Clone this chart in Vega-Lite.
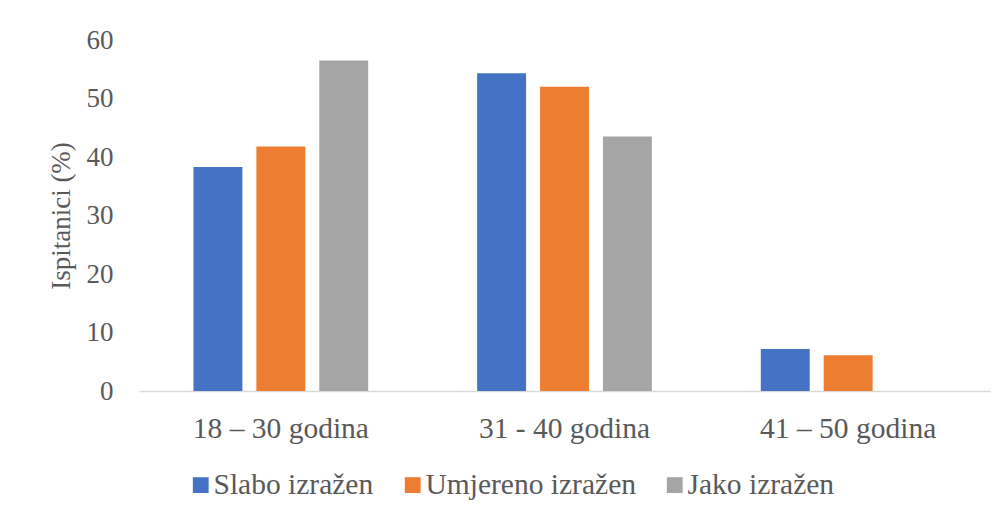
{
  "$schema": "https://vega.github.io/schema/vega-lite/v6.json",
  "autosize": "none",
  "width": 851,
  "height": 351,
  "padding": {"left": 139, "top": 40, "right": 17, "bottom": 127},
  "background": "white",
  "config": {
    "view": {"stroke": null},
    "font": "Liberation Serif",
    "axis": {"labelFont": "Liberation Serif", "titleFont": "Liberation Serif", "labelColor": "#595959", "titleColor": "#595959", "labelFontSize": 29.5, "titleFontSize": 27, "titleFontWeight": "normal", "ticks": false, "grid": false},
    "legend": {"labelFont": "Liberation Serif", "labelFontSize": 29.5, "labelColor": "#595959", "labelLimit": 0}
  },
  "data": {
    "values": [
      {"grupa": "18 – 30 godina", "stupanj": "Slabo izražen", "vrijednost": 38.3},
      {"grupa": "18 – 30 godina", "stupanj": "Umjereno izražen", "vrijednost": 41.8},
      {"grupa": "18 – 30 godina", "stupanj": "Jako izražen", "vrijednost": 56.5},
      {"grupa": "31 - 40 godina", "stupanj": "Slabo izražen", "vrijednost": 54.3},
      {"grupa": "31 - 40 godina", "stupanj": "Umjereno izražen", "vrijednost": 52.0},
      {"grupa": "31 - 40 godina", "stupanj": "Jako izražen", "vrijednost": 43.5},
      {"grupa": "41 – 50 godina", "stupanj": "Slabo izražen", "vrijednost": 7.2},
      {"grupa": "41 – 50 godina", "stupanj": "Umjereno izražen", "vrijednost": 6.1},
      {"grupa": "41 – 50 godina", "stupanj": "Jako izražen", "vrijednost": 0}
    ]
  },
  "mark": {"type": "bar"},
  "encoding": {
    "x": {
      "field": "grupa", "type": "nominal", "sort": null,
      "scale": {"paddingInner": 0.384, "paddingOuter": 0.192},
      "axis": {"title": null, "labelAngle": 0, "labelPadding": 23, "domainColor": "#D9D9D9", "domainWidth": 1.5}
    },
    "xOffset": {
      "field": "stupanj", "type": "nominal", "sort": ["Slabo izražen", "Umjereno izražen", "Jako izražen"],
      "scale": {"paddingInner": 0.222, "paddingOuter": 0}
    },
    "y": {
      "field": "vrijednost", "type": "quantitative",
      "scale": {"domain": [0, 60], "nice": false},
      "axis": {"title": "Ispitanici (%)", "values": [0, 10, 20, 30, 40, 50, 60], "domain": false, "labelPadding": 26, "labelFontSize": 27, "titlePadding": 11}
    },
    "color": {
      "field": "stupanj", "type": "nominal", "sort": ["Slabo izražen", "Umjereno izražen", "Jako izražen"],
      "scale": {"domain": ["Slabo izražen", "Umjereno izražen", "Jako izražen"], "range": ["#4472C4", "#ED7D31", "#A5A5A5"]},
      "legend": {"title": null, "orient": "none", "direction": "horizontal", "legendX": 47, "legendY": 430, "symbolType": "square", "symbolSize": 250, "symbolStrokeWidth": 0, "labelOffset": -2, "columnPadding": 24}
    }
  }
}
